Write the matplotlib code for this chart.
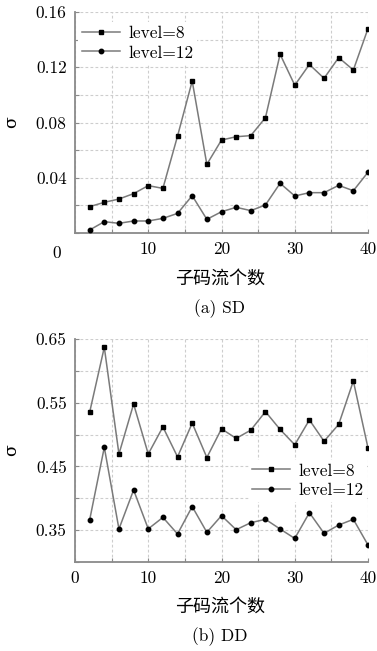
import matplotlib
matplotlib.use("Agg")
import matplotlib.pyplot as plt
import numpy as np

x_vals = [2, 4, 6, 8, 10, 12, 14, 16, 18, 20, 22, 24, 26, 28, 30, 32, 34, 36, 38, 40]

sd_level8 = [0.0191, 0.0222, 0.0246, 0.0285, 0.0343, 0.0323, 0.0702, 0.110, 0.0497, 0.0673,
             0.0697, 0.0705, 0.0835, 0.1294, 0.107, 0.122, 0.112, 0.127, 0.118, 0.148]
sd_level12 = [0.0022, 0.0082, 0.0070, 0.0087, 0.0087, 0.0106, 0.0142, 0.0270, 0.0099, 0.0154,
              0.0186, 0.0162, 0.0203, 0.0360, 0.0268, 0.0292, 0.0292, 0.0345, 0.0306, 0.0440]

dd_level8 = [0.535, 0.637, 0.4695, 0.548, 0.4695, 0.512, 0.465, 0.518, 0.464, 0.509,
             0.494, 0.507, 0.536, 0.508, 0.484, 0.523, 0.4895, 0.516, 0.584, 0.479]
dd_level12 = [0.366, 0.480, 0.3518, 0.413, 0.352, 0.370, 0.344, 0.387, 0.3466, 0.3727,
              0.3507, 0.3617, 0.367, 0.3518, 0.337, 0.3774, 0.345, 0.358, 0.367, 0.3267]

labels = ["level=8", "level=12"]
xlabel = "子码流个数"
ylabel = "σ"
captions = ["(a) SD", "(b) DD"]

W, H = 377, 651
fig = plt.figure(figsize=(W / 100, H / 100), dpi=100)

serif = ["cmr10", "DejaVu Serif"]
cjk = ["Noto Sans CJK SC", "DejaVu Sans"]
FS = 12.5

line_c = "#7a7a7a"
spine_c = "#8a8a8a"
grid_c = "#cdcdcd"


def make_ax(rect, ylim, yticks, yminor, y8, y12, legend_loc, legend_anchor):
    ax = fig.add_axes(rect)
    ax.plot(x_vals, y8, color=line_c, lw=1.1, marker="s", ms=3.3, mfc="black", mec="black",
            label=labels[0], zorder=3)
    ax.plot(x_vals, y12, color=line_c, lw=1.1, marker="o", ms=3.2, mfc="black", mec="black",
            label=labels[1], zorder=3)
    ax.set_xlim(0, 40)
    ax.set_ylim(*ylim)
    ax.set_xticks([10, 20, 30, 40])
    ax.set_xticks(np.arange(0, 41, 5), minor=True)
    ax.set_yticks(yticks)
    ax.set_yticks(yminor, minor=True)
    ax.grid(True, which="both", ls=(0, (2.5, 2)), color=grid_c, lw=0.8)
    ax.set_axisbelow(True)
    for s in ["top", "right"]:
        ax.spines[s].set_visible(False)
    for s in ["left", "bottom"]:
        ax.spines[s].set_color(spine_c)
        ax.spines[s].set_linewidth(1.3)
    ax.tick_params(which="both", direction="in", color=spine_c, length=3, width=0.8)
    ax.tick_params(labelsize=FS, pad=6)
    for lab in ax.get_xticklabels() + ax.get_yticklabels():
        lab.set_family(serif)
    leg = ax.legend(loc=legend_loc, bbox_to_anchor=legend_anchor, frameon=True,
                    prop={"family": serif, "size": FS}, handlelength=2.2, numpoints=1,
                    handletextpad=0.5, labelspacing=0.25, borderpad=0.2,
                    borderaxespad=0.2)
    leg.get_frame().set_edgecolor("none")
    leg.get_frame().set_facecolor("white")
    leg.get_frame().set_alpha(1.0)
    return ax


ax1 = make_ax([75 / W, (H - 233) / H, 293 / W, 221 / H], (0, 0.16),
              [0.04, 0.08, 0.12, 0.16], np.arange(0, 0.161, 0.02),
              sd_level8, sd_level12, "upper left", (0.0, 0.97))
ax1.set_yticklabels(["0.04", "0.08", "0.12", "0.16"])
ax2 = make_ax([75 / W, (H - 562) / H, 293 / W, 223 / H], (0.30, 0.65),
              [0.35, 0.45, 0.55, 0.65], np.arange(0.30, 0.651, 0.05),
              dd_level8, dd_level12, "lower right", (1.01, 0.255))
ax2.set_xticks([0, 10, 20, 30, 40])
for lab in ax2.get_xticklabels():
    lab.set_family(serif)

# the "0" label of the top chart sits left of the axes corner
fig.text(57 / W, 1 - 253 / H, "0", ha="center", va="center", family=serif, fontsize=FS)

for ax, ly, cy, cap in [(ax1, 279, 309, captions[0]), (ax2, 607, 637, captions[1])]:
    fig.text(220 / W, 1 - ly / H, xlabel, ha="center", va="center", family=cjk, fontsize=13)
    fig.text(220 / W, 1 - cy / H, cap, ha="center", va="center", family=serif, fontsize=FS)

fig.text(11 / W, 1 - 122 / H, ylabel, ha="center", va="center", rotation=90,
         family=serif, fontsize=FS)
fig.text(11 / W, 1 - 450 / H, ylabel, ha="center", va="center", rotation=90,
         family=serif, fontsize=FS)

fig.savefig("out.png", dpi=100)
